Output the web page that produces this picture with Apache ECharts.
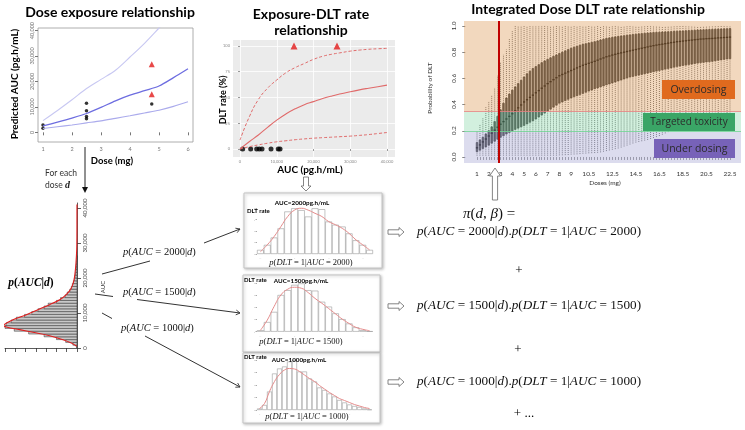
<!DOCTYPE html>
<html><head><meta charset="utf-8">
<script src="https://cdn.jsdelivr.net/npm/echarts@6/dist/echarts.min.js"></script>
<style>html,body{margin:0;padding:0;background:#fff}#c{width:745px;height:430px}</style>
</head><body><div id="c"></div>
<script>
// ---------------- DATA ----------------
// Panel 1: dose-exposure
const doseGrid  = [1,1.5,2,2.5,3,3.5,4,4.5,5,5.5,6];
const aucUpper  = [4600,8600,12800,17200,20800,24400,29600,35000,41000,47000,53000];
const aucMedian = [2500,4000,5600,7400,9800,12400,14600,16400,18200,21500,25000];
const aucLower  = [1500,2200,2900,3700,4500,5500,6500,7600,8700,10200,12000];
const obsDose   = [1,1,2.5,2.5,2.5,2.5,4.75];
const obsAuc    = [2900,1600,11400,8500,6200,5300,11100];
const dltDose   = [4.75,4.75];
const dltAuc    = [26800,15000];
const doseTicks = [1,2,3,4,5,6];
const aucTicks  = [0,10000,20000,30000,40000];

// Panel 2: p(AUC|d) histogram
const aucBinEdges = [0,800,1600,2400,3200,4000,4800,5600,6400,7200,8000,8800,9600,10400,11200,12000,12800,13600,14400,15200,16000,16800,17600,18400,19200,20000,20800,21600,22400,23200,24000,24800,25600,26400];
const aucBinCounts = [5,40,110,200,320,470,610,700,690,640,590,510,440,380,320,280,200,160,115,95,70,55,45,35,25,20,15,12,8,6,5,3,2];
const densAuc = [500,1430,2380,3520,4480,5240,6000,6480,7330,8290,9520,10950,12380,13810,15240,17140,19050,21430,24290,28100,32860,41000];
const densVal = [3,55,136,266,428,557,687,713,671,606,492,379,266,168,104,55,32,19,10,3,1,0.5];

// Panel 3: exposure - DLT rate
const aucCurve  = [0,2500,5000,7500,10000,12500,15000,17500,20000,22500,25000,27500,30000,32500,35000,37500,40000];
const dltUpper  = [8.7,31,48,59,67,74,79,83,87,90,92,93.5,95,96,96.8,97.3,97.7];
const dltMedian = [0,7,13.6,21,28,34,39,43,46,49,51.5,53.6,55.6,57.4,59,60.5,62];
const dltLower  = [0,2.2,4,5.6,7,8,9,9.8,10.5,11,11.5,12,12.5,13.2,14,15,16];
const aucNoDlt  = [730,2900,4540,5250,5990,8440,10400,10900];
const aucWithDlt= [14700,26400];
const aucLabelTicks = [0,10000,20000,30000,40000];
const rateLabelTicks = [0,25,50,75,100];

// Mini histograms p(DLT=1|AUC)
const histA  = [0.09,0.2,0.36,0.56,0.93,1.0,0.96,0.82,1.0,0.98,0.71,0.64,0.6,0.45,0.3,0.2,0.09];
const curveA = [0.05,0.2,0.38,0.6,0.82,0.96,1.0,0.96,0.89,0.82,0.71,0.64,0.56,0.45,0.31,0.2,0.09];
const histB  = [0.03,0.2,0.41,0.76,0.86,0.97,1.0,0.86,0.85,0.62,0.52,0.38,0.26,0.17,0.09,0.03,0.01];
const curveB = [0.03,0.24,0.52,0.76,0.88,0.92,0.9,0.81,0.69,0.59,0.48,0.37,0.26,0.17,0.09,0.05,0.02];
const histC  = [0.03,0.1,0.37,0.73,0.83,0.87,0.97,1.0,0.77,0.77,0.63,0.57,0.45,0.4,0.33,0.27,0.2,0.15,0.11,0.08,0.06,0.03,0.01];
const curveC = [0.03,0.13,0.37,0.57,0.71,0.8,0.83,0.82,0.77,0.7,0.63,0.57,0.49,0.42,0.35,0.29,0.23,0.19,0.15,0.11,0.08,0.05,0.03];

// Panel 4: integrated dose - DLT probability
const doses = [1,1.25,1.5,1.75,2,2.25,2.5,2.75,3,3.25,3.5,3.75,4,4.25,4.5,4.75,5,5.25,5.5,5.75,6,6.25,6.5,6.75,7,7.25,7.5,7.75,8,8.25,8.5,8.75,9,9.25,9.5,9.75,10,10.25,10.5,10.75,11,11.25,11.5,11.75,12,12.25,12.5,12.75,13,13.25,13.5,13.75,14,14.25,14.5,14.75,15,15.25,15.5,15.75,16,16.25,16.5,16.75,17,17.25,17.5,17.75,18,18.25,18.5,18.75,19,19.25,19.5,19.75,20,20.25,20.5,20.75,21,21.25,21.5,21.75,22,22.25,22.5];
const pMin = [.01,.01,.01,.01,.01,.01,.01,.01,.01,.01,.01,.01,.01,.01,.01,.01,.01,.01,.01,.01,.01,.01,.01,.01,.01,.01,.01,.01,
  .012,.013,.014,.015,.018,.019,.02,.022,.025,.026,.028,.029,.03,.032,.035,.04,.045,.05,.055,.06,.065,.072,.08,.087,
  .095,.103,.11,.115,.12,.125,.13,.137,.145,.152,.16,.17,.18,.19,.20,.21,.22,.228,.235,.243,.25,.258,.265,.273,
  .28,.288,.295,.303,.31,.315,.32,.325,.33,.335,.34];
const pQ1 = [.04,.052,.065,.077,.09,.105,.12,.135,.15,.162,.175,.187,.20,.21,.22,.23,.24,.252,.265,.277,.29,.305,.32,.335,
  .35,.365,.38,.395,.41,.42,.43,.44,.45,.459,.468,.476,.485,.494,.503,.511,.52,.527,.535,.542,.55,.557,.565,.572,
  .58,.587,.595,.602,.61,.615,.62,.625,.63,.635,.64,.645,.65,.655,.66,.665,.67,.675,.68,.685,.69,.694,.698,.701,
  .705,.709,.713,.716,.72,.722,.725,.727,.73,.734,.738,.741,.745,.747,.75];
const pMed = [.07,.092,.115,.137,.16,.182,.205,.227,.25,.27,.29,.31,.33,.352,.375,.397,.42,.437,.455,.472,.49,.507,.525,.542,
  .56,.575,.59,.605,.62,.63,.64,.65,.66,.67,.68,.69,.70,.707,.715,.722,.73,.739,.748,.756,.765,.771,.778,.784,
  .79,.795,.80,.805,.81,.815,.82,.825,.83,.835,.84,.845,.85,.854,.858,.861,.865,.869,.873,.876,.88,.882,.885,.887,
  .89,.892,.895,.897,.90,.901,.903,.904,.905,.907,.909,.910,.912,.913,.915];
const pQ3 = [.11,.13,.15,.175,.20,.23,.27,.31,.36,.41,.45,.48,.51,.535,.56,.585,.61,.635,.655,.675,.69,.705,.72,.733,
  .745,.757,.768,.779,.79,.80,.81,.82,.83,.838,.845,.853,.86,.865,.87,.875,.88,.886,.893,.899,.905,.909,.913,.917,
  .92,.923,.926,.929,.932,.935,.937,.94,.942,.944,.946,.948,.95,.951,.952,.954,.955,.956,.957,.959,.96,.961,.962,.964,
  .965,.966,.967,.969,.97,.971,.972,.973,.974,.975,.976,.977,.978,.979,.98];
const pMax = [.20,.25,.30,.38,.42,.47,.53,.62,.72,.78,.82,.90,.96,1,1,1,1,1,1,1,1,1,1,1,1,1,1,1,1,1,1,1,1,1,1,1,1,1,1,1,
  1,1,1,1,1,1,1,1,1,1,1,1,1,1,1,1,1,1,1,1,1,1,1,1,1,1,1,1,1,1,1,1,1,1,1,1,1,1,1,1,1,1,1,1,1,1,1];
const doseLabels = [1,2,3,4,5,6,7,8,9,10.5,12.5,14.5,16.5,18.5,20.5,22.5];
const probTicks = [0,0.2,0.4,0.6,0.8,1.0];
const targetLow = 0.2, targetHigh = 0.35;
const selectedDose = 2.85;

// ---------------- CHART ----------------
const chart = echarts.init(document.getElementById('c'), null, {renderer:'canvas'});
const SANS = 'Lato', SERIF = 'Liberation Serif';
const zip = (a,b) => a.map((v,i)=>[v,b[i]]);

function T(x, y, text, o) {
  o = o || {};
  return {type:'text', x:x, y:y, rotation:o.rot||0, z:o.z||50, silent:true,
    style:{text:text, fontSize:o.size||10, fontFamily:o.family||SANS, fontWeight:o.weight||'normal',
      fontStyle:o.style||'normal', fill:o.color||'#000',
      align:o.align||'center', verticalAlign:'middle', textAlign:o.align||'center', textVerticalAlign:'middle',
      rich:o.rich}};
}
function mathRich(size){ return {i:{fontStyle:'italic', fontSize:size, fontFamily:SERIF, fill:'#111'}}; }
function M(x, y, s, size, align) {
  return T(x, y, s.replace(/[A-Za-z]+/g, m => '{i|'+m+'}'), {size:size, family:SERIF, color:'#111', align:align||'left', rich:mathRich(size)});
}
function L(x1,y1,x2,y2,c,w){ return {type:'line', silent:true, z:40, shape:{x1,y1,x2,y2}, style:{stroke:c||'#333', lineWidth:w||1}}; }
function arrowRight(x0,x1,y){ const h=2.2,H=4.5,hd=5; return {type:'polygon', z:40, silent:true, shape:{points:[[x0,y-h],[x1-hd,y-h],[x1-hd,y-H],[x1,y],[x1-hd,y+H],[x1-hd,y+h],[x0,y+h]]}, style:{fill:'#fff', stroke:'#666', lineWidth:0.8}}; }
function arrowUp(x,yT,yB,h,H,hd){ return {type:'polygon', z:40, silent:true, shape:{points:[[x-h,yB],[x-h,yT+hd],[x-H,yT+hd],[x,yT],[x+H,yT+hd],[x+h,yT+hd],[x+h,yB]]}, style:{fill:'#fff', stroke:'#666', lineWidth:0.8}}; }
function arrowDown(x,yT,yB,h,H,hd){ return {type:'polygon', z:40, silent:true, shape:{points:[[x-h,yT],[x-h,yB-hd],[x-H,yB-hd],[x,yB],[x+H,yB-hd],[x+h,yB-hd],[x+h,yT]]}, style:{fill:'#fff', stroke:'#666', lineWidth:0.8}}; }
function headTo(x,y,dx,dy){
  const n=Math.hypot(dx,dy); dx/=n; dy/=n; const s=4;
  return {type:'polyline', z:40, silent:true, shape:{points:[[x-s*dx-s*0.6*dy, y-s*dy+s*0.6*dx],[x,y],[x-s*dx+s*0.6*dy, y-s*dy-s*0.6*dx]]}, style:{stroke:'#333', lineWidth:0.9, fill:null}};
}
function box(x,y,w,h){ return {type:'rect', z:0, silent:true, shape:{x,y,width:w,height:h}, style:{fill:'#fff', stroke:'#c4c4c4', lineWidth:1, shadowBlur:3, shadowColor:'rgba(0,0,0,0.25)', shadowOffsetX:1, shadowOffsetY:1}}; }
function tag(x,y,w,h,fill,text,size){ return [
  {type:'rect', z:60, silent:true, shape:{x,y,width:w,height:h}, style:{fill:fill}},
  T(x+w/2, y+h/2+0.5, text, {size:size, color:'#2b2b2b', z:61, family:'Open Sans'})]; }

const graphics = [
  T(110, 12, 'Dose exposure relationship', {size:14, weight:'bold'}),
  T(311, 14, 'Exposure-DLT rate', {size:14, weight:'bold'}),
  T(311, 30, 'relationship', {size:14, weight:'bold'}),
  T(588, 9, 'Integrated Dose DLT rate relationship', {size:14, weight:'bold'}),
  T(15, 84, 'Predicted AUC (pg.h/mL)', {size:10, weight:'bold', rot:Math.PI/2}),
  T(112, 161, 'Dose (mg)', {size:9.5, weight:'bold'}),
  T(45, 173, 'For each', {size:8.5, color:'#333', align:'left'}),
  T(45, 185, 'dose {d|d}', {size:8.5, color:'#333', align:'left', rich:{d:{fontStyle:'italic', fontWeight:'bold', fontFamily:SERIF, fontSize:10, fill:'#222'}}}),
  L(85, 147, 85, 188, '#222', 1),
  {type:'polygon', z:40, silent:true, shape:{points:[[82,187],[88,187],[85,193]]}, style:{fill:'#111'}},
  T(31, 283, '{b|p}({b|AUC}|{b|d})', {size:11.5, family:SERIF, weight:'bold', align:'center', rich:{b:{fontStyle:'italic', fontWeight:'bold', fontFamily:SERIF, fontSize:11.5}}}),
  T(103, 287, 'AUC', {size:6, rot:Math.PI/2, color:'#333'}),
  M(123, 252, 'p(AUC = 2000|d)', 10.5),
  M(123, 292, 'p(AUC = 1500|d)', 10.5),
  M(121, 328, 'p(AUC = 1000|d)', 10.5),
  L(102, 274, 150, 261), L(204, 243, 240, 229), headTo(240,229,36,-14),
  L(95, 294, 113, 296.5), L(137, 299.5, 240, 313), headTo(240,313,103,13.5),
  L(102, 313, 112, 318.5), L(145, 336, 240, 387), headTo(240,387,95,51),
  T(223, 100, 'DLT rate (%)', {size:9, weight:'bold', rot:Math.PI/2}),
  T(310, 170, 'AUC (pg.h/mL)', {size:10, weight:'bold'}),
  arrowDown(306, 177, 191, 2.5, 5, 5),
  box(244, 193, 138, 75), box(243, 275, 137, 77), box(243, 353, 137, 70),
  T(302, 203, 'AUC=2000pg.h/mL', {size:6.3, weight:'bold'}),
  T(247, 211, 'DLT rate', {size:6, weight:'bold', align:'left'}),
  M(311, 263, 'p(DLT = 1|AUC = 2000)', 8.5, 'center'),
  T(301, 281, 'AUC=1500pg.h/mL', {size:6.3, weight:'bold'}),
  T(244, 280, 'DLT rate', {size:6, weight:'bold', align:'left'}),
  M(301, 342, 'p(DLT = 1|AUC = 1500)', 8.5, 'center'),
  T(299, 360, 'AUC=1000pg.h/mL', {size:6.3, weight:'bold'}),
  T(244, 357, 'DLT rate', {size:6, weight:'bold', align:'left'}),
  M(307, 417, 'p(DLT = 1|AUC = 1000)', 8.5, 'center'),
  arrowRight(388, 404, 232), arrowRight(388, 404, 306), arrowRight(388, 404, 382),
  T(463, 214, '{i|π}({i|d}, {i|β}) =', {size:15, family:SERIF, align:'left', color:'#111', rich:mathRich(15)}),
  M(417, 232, 'p(AUC = 2000|d).p(DLT = 1|AUC = 2000)', 13.2),
  T(519, 271, '+', {size:13, family:SERIF}),
  M(417, 306, 'p(AUC = 1500|d).p(DLT = 1|AUC = 1500)', 13.2),
  T(518, 350, '+', {size:13, family:SERIF}),
  M(417, 382, 'p(AUC = 1000|d).p(DLT = 1|AUC = 1000)', 13.2),
  T(524, 414, '+ ...', {size:13, family:SERIF}),
  T(430, 88, 'Probability of DLT', {size:6.5, rot:Math.PI/2, color:'#333'}),
  T(605, 183, 'Doses (mg)', {size:6.5, color:'#333'}),
  arrowUp(495, 168, 200, 2.6, 5.5, 8)
].concat(
  tag(662, 80, 73, 19, '#e06a1e', 'Overdosing', 10.5),
  tag(643, 113, 92, 18, '#3aa566', 'Targeted toxicity', 10),
  tag(654, 139, 81, 19, '#7762b8', 'Under dosing', 10.5)
);

const tinyLbl = (sz, col) => ({fontSize:sz, color:col||'#666', fontFamily:SANS});

function miniAxes(gi, n){
  return {
    x:{type:'category', gridIndex:gi, data:Array.from({length:n},(_, i)=>i), axisLine:{show:false},
       axisTick:{show:false}, axisLabel:{show:true, fontSize:3, color:'#aaa', interval:Math.floor(n/4), margin:3, formatter:()=> '..'}},
    y:{type:'value', gridIndex:gi, min:0, max:1.05, splitLine:{show:false}, axisLine:{show:false},
       axisTick:{show:true, length:1.5, lineStyle:{color:'#aaa'}}, interval:0.25, axisLabel:{fontSize:3, color:'#aaa', margin:2, formatter:()=>'-'}}
  };
}
const mA = miniAxes(4, histA.length), mB = miniAxes(5, histB.length), mC = miniAxes(6, histC.length);

const option = {
  animation:false,
  backgroundColor:'#fff',
  graphic:{elements:graphics},
  grid:[
    {left:38, top:28, width:155, height:114, show:true, borderColor:'#9a9a9a', borderWidth:0.8, backgroundColor:'rgba(0,0,0,0)'},
    {left:5, top:203, width:72, height:145},
    {left:233, top:40, width:162, height:117, show:true, backgroundColor:'#ebebeb', borderWidth:0},
    {left:464, top:21, width:277, height:142},
    {left:257, top:206, width:116, height:48},
    {left:257, top:281, width:116, height:50.7},
    {left:257, top:357.5, width:115, height:52.5}
  ],
  xAxis:[
    {type:'value', gridIndex:0, min:0.828, max:6.172, axisLine:{show:false}, splitLine:{show:false},
     axisTick:{customValues:doseTicks, length:3, lineStyle:{color:'#777'}}, axisLabel:{customValues:doseTicks, ...tinyLbl(5.5,'#777'), margin:4}},
    {type:'value', gridIndex:1, inverse:true, min:0, max:700, interval:100, offset:2, splitLine:{show:false},
     axisLine:{show:true, lineStyle:{color:'#333', width:0.8}}, axisTick:{length:4, lineStyle:{color:'#333', width:0.8}}, axisLabel:{show:false}},
    {type:'value', gridIndex:2, min:-1905, max:42177, axisLine:{show:false},
     splitLine:{show:true, lineStyle:{color:'#fff', width:0.8}},
     axisTick:{customValues:aucLabelTicks, length:2, lineStyle:{color:'#999'}},
     axisLabel:{customValues:aucLabelTicks, ...tinyLbl(4,'#888'), margin:3}},
    {type:'value', gridIndex:3, min:-0.105, max:23.435, axisLine:{show:false}, splitLine:{show:false}, offset:1,
     axisTick:{customValues:doses, length:3, lineStyle:{color:'#555', width:0.6}},
     axisLabel:{customValues:doseLabels, ...tinyLbl(6.5,'#333'), margin:6}},
    mA.x, mB.x, mC.x
  ],
  yAxis:[
    {type:'value', gridIndex:0, min:-3800, max:41000, axisLine:{show:false}, splitLine:{show:false},
     axisTick:{customValues:aucTicks, length:3, lineStyle:{color:'#777'}},
     axisLabel:{customValues:aucTicks, rotate:90, ...tinyLbl(5.5,'#777'), margin:3}},
    {type:'value', gridIndex:1, position:'right', min:0, max:41430, splitLine:{show:false},
     axisLine:{show:true, lineStyle:{color:'#333', width:0.8}},
     axisTick:{customValues:aucTicks, length:4, lineStyle:{color:'#333', width:0.8}},
     axisLabel:{customValues:aucTicks, rotate:90, ...tinyLbl(6,'#444'), margin:5}},
    {type:'value', gridIndex:2, min:-7.77, max:105.8, axisLine:{show:false},
     splitLine:{show:true, lineStyle:{color:'#fff', width:0.8}},
     axisTick:{customValues:rateLabelTicks, length:2, lineStyle:{color:'#999'}},
     axisLabel:{customValues:rateLabelTicks, ...tinyLbl(4,'#888'), margin:3}},
    {type:'value', gridIndex:3, min:-0.046, max:1.038, splitLine:{show:false}, offset:2,
     axisLine:{show:false},
     axisTick:{customValues:probTicks, length:3, lineStyle:{color:'#555', width:0.7}},
     axisLabel:{customValues:probTicks, rotate:90, ...tinyLbl(6.5,'#333'), margin:5, formatter:v=>v.toFixed(1)}},
    mA.y, mB.y, mC.y
  ],
  series:[
    {type:'line', xAxisIndex:0, yAxisIndex:0, data:zip(doseGrid, aucUpper), symbol:'none', smooth:0.3, clip:true, lineStyle:{color:'#c8c8f2', width:1.1}},
    {type:'line', xAxisIndex:0, yAxisIndex:0, data:zip(doseGrid, aucMedian), symbol:'none', smooth:0.3, clip:true, lineStyle:{color:'#6d6de0', width:1.3}},
    {type:'line', xAxisIndex:0, yAxisIndex:0, data:zip(doseGrid, aucLower), symbol:'none', smooth:0.3, clip:true, lineStyle:{color:'#ababec', width:1.1}},
    {type:'scatter', xAxisIndex:0, yAxisIndex:0, data:zip(obsDose, obsAuc), symbol:'circle', symbolSize:3.5, itemStyle:{color:'#000'}},
    {type:'scatter', xAxisIndex:0, yAxisIndex:0, data:zip(dltDose, dltAuc), symbol:'triangle', symbolSize:6, itemStyle:{color:'#e21a1a'}},
    {type:'custom', xAxisIndex:1, yAxisIndex:1, z:2,
     data:aucBinCounts.map((c,i)=>[aucBinEdges[i], aucBinEdges[i+1], c]),
     renderItem:function(params, api){
       const lo=api.value(0), hi=api.value(1), c=api.value(2);
       const p0=api.coord([0,lo]), p1=api.coord([c,hi]);
       return {type:'rect', shape:{x:Math.min(p0[0],p1[0]), y:p1[1], width:Math.abs(p1[0]-p0[0]), height:p0[1]-p1[1]},
               style:{fill:'#c9c9c9', stroke:'#2a2a2a', lineWidth:0.5}};
     }},
    {type:'line', xAxisIndex:1, yAxisIndex:1, z:3, data:zip(densVal, densAuc), symbol:'none', smooth:0.4, lineStyle:{color:'#e01e1e', width:1.1}},
    {type:'line', xAxisIndex:2, yAxisIndex:2, data:zip(aucCurve, dltUpper), symbol:'none', smooth:true, lineStyle:{color:'#e06a6a', width:1, type:[3,2]}},
    {type:'line', xAxisIndex:2, yAxisIndex:2, data:zip(aucCurve, dltMedian), symbol:'none', smooth:true, lineStyle:{color:'#e06a6a', width:1.1}},
    {type:'line', xAxisIndex:2, yAxisIndex:2, data:zip(aucCurve, dltLower), symbol:'none', smooth:true, lineStyle:{color:'#e06a6a', width:1, type:[3,2]}},
    {type:'scatter', xAxisIndex:2, yAxisIndex:2, data:aucNoDlt.map(a=>[a,0]), symbolSize:5, itemStyle:{color:'#000'}},
    {type:'scatter', xAxisIndex:2, yAxisIndex:2, data:aucWithDlt.map(a=>[a,100]), symbol:'triangle', symbolSize:7, itemStyle:{color:'#e21a1a'}},
    {type:'custom', xAxisIndex:3, yAxisIndex:3, z:2,
     data:doses.map((d,i)=>[d, pMin[i], pQ1[i], pMed[i], pQ3[i], pMax[i]]),
     renderItem:function(params, api){
       const d=api.value(0);
       const cMin=api.coord([d,api.value(1)]), cQ1=api.coord([d,api.value(2)]), cMd=api.coord([d,api.value(3)]),
             cQ3=api.coord([d,api.value(4)]), cMax=api.coord([d,api.value(5)]);
       const w=Math.abs(api.size([0.25,0])[0])*0.55;
       const x=cMd[0];
       return {type:'group', children:[
         {type:'line', shape:{x1:x,y1:cMin[1],x2:x,y2:cQ1[1]}, style:{stroke:'#4a4a4a', lineWidth:0.8, lineDash:[1,1]}},
         {type:'line', shape:{x1:x,y1:cQ3[1],x2:x,y2:cMax[1]}, style:{stroke:'#4a4a4a', lineWidth:0.8, lineDash:[1,1]}},
         {type:'rect', shape:{x:x-w/2, y:cQ3[1], width:w, height:cQ1[1]-cQ3[1]}, style:{fill:'#4e4e4e', stroke:'#1c1c1c', lineWidth:0.6}},
         {type:'line', shape:{x1:x-w/2-0.3,y1:cMd[1],x2:x+w/2+0.3,y2:cMd[1]}, style:{stroke:'#0a0a0a', lineWidth:1.3}}
       ]};
     }},
    {type:'scatter', xAxisIndex:3, yAxisIndex:3, z:3, data:[], silent:true,
     markArea:{silent:true, z:10, data:[
       [{yAxis:targetHigh, itemStyle:{color:'rgba(219,148,76,0.36)'}},{yAxis:1.038}],
       [{yAxis:targetLow, itemStyle:{color:'rgba(131,213,164,0.36)'}},{yAxis:targetHigh}],
       [{yAxis:-0.046, itemStyle:{color:'rgba(158,158,208,0.36)'}},{yAxis:targetLow}]
     ]},
     markLine:{silent:true, z:11, symbol:'none', label:{show:false}, data:[
       {yAxis:targetHigh, lineStyle:{color:'#e88080', width:0.8, type:'solid'}},
       {yAxis:targetLow, lineStyle:{color:'#6fd890', width:0.8, type:'solid'}}
     ]}},
    {type:'scatter', xAxisIndex:3, yAxisIndex:3, z:4, data:[], silent:true,
     markLine:{silent:true, z:12, symbol:'none', label:{show:false}, data:[{xAxis:selectedDose, lineStyle:{color:'#c00000', width:2, type:'solid'}}]}},
    {type:'bar', xAxisIndex:4, yAxisIndex:4, data:histA, barCategoryGap:'0%', itemStyle:{color:'#fff', borderColor:'#9a9a9a', borderWidth:0.6}},
    {type:'line', xAxisIndex:4, yAxisIndex:4, data:curveA, smooth:true, symbol:'none', lineStyle:{color:'#e48c8c', width:1}},
    {type:'bar', xAxisIndex:5, yAxisIndex:5, data:histB, barCategoryGap:'0%', itemStyle:{color:'#fff', borderColor:'#9a9a9a', borderWidth:0.6}},
    {type:'line', xAxisIndex:5, yAxisIndex:5, data:curveB, smooth:true, symbol:'none', lineStyle:{color:'#e48c8c', width:1}},
    {type:'bar', xAxisIndex:6, yAxisIndex:6, data:histC, barCategoryGap:'0%', itemStyle:{color:'#fff', borderColor:'#9a9a9a', borderWidth:0.6}},
    {type:'line', xAxisIndex:6, yAxisIndex:6, data:curveC, smooth:true, symbol:'none', lineStyle:{color:'#e48c8c', width:1}}
  ]
};
chart.setOption(option);
</script>
</body></html>
